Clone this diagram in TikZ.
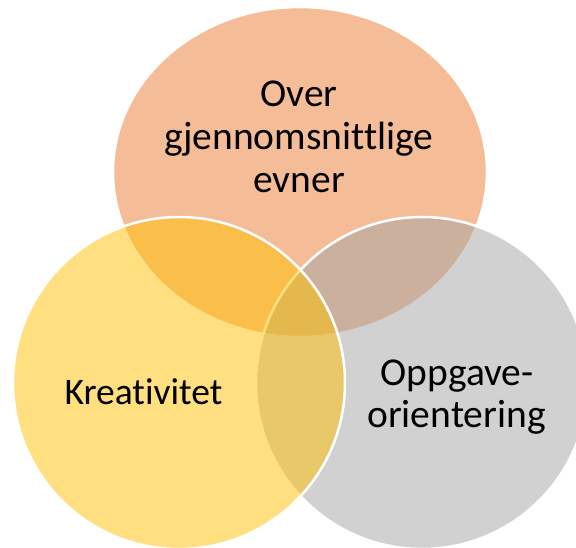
\documentclass[tikz,border=0pt]{standalone}
\usepackage{fontspec}
\setmainfont{Carlito}[Ligatures={NoCommon,NoRare,NoContextual}]
\definecolor{vorange}{HTML}{ED7D31}
\definecolor{vgray}{HTML}{A5A5A5}
\definecolor{vgold}{HTML}{FFC000}
\begin{document}
\begin{tikzpicture}[x=1pt,y=1pt,
  setshape/.style={draw=white, line width=2.5pt, fill opacity=0.5, draw opacity=1},
  lbl/.style={inner sep=0pt, anchor=base, font=\fontsize{39.5}{43.4}\selectfont, text=black}]
\useasboundingbox (0,0) rectangle (576,548);
\clip (0,0) rectangle (576,548);
\fill[white] (0,0) rectangle (576,548);
\draw[setshape, fill=vorange] (300,376) ellipse [x radius=187, y radius=165];
\draw[setshape, fill=vgray] (422,165) circle [radius=166];
\draw[setshape, fill=vgold] (179,165) circle [radius=166];
\node[lbl] (top1) at (299,441) {Over};
\node[lbl] (top2) at (299,398) {gjennomsnittlige};
\node[lbl] (top3) at (299,355) {evner};
\node[lbl, font=\fontsize{37.5}{43.4}\selectfont] (left) at (143.5,143) {Kreativitet};
\node[lbl] (right1) at (457,162.5) {Oppgave-};
\node[lbl] (right2) at (456.5,120) {orientering};
\end{tikzpicture}
\end{document}
